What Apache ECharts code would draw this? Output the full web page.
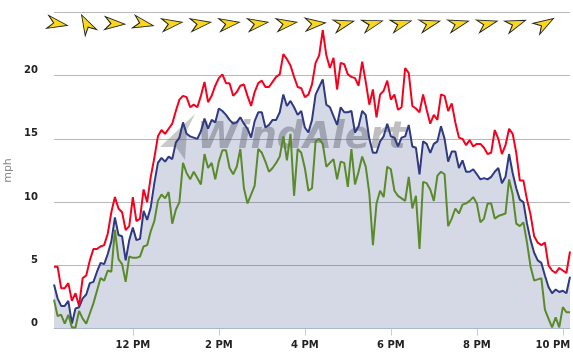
<!DOCTYPE html>
<html>
<head>
<meta charset="utf-8">
<title>Wind</title>
<script src="https://cdn.jsdelivr.net/npm/echarts@6/dist/echarts.min.js"></script>
<style>
html, body { margin: 0; padding: 0; background: #fff; }
#chart { width: 573px; height: 357px; }
</style>
</head>
<body>
<div id="chart"></div>
<script>
// wind speed in mph, one reading every 5 minutes from 10:10 AM
var gust = [
	4.9, 4.9, 3.2, 3.2, 3.6, 2.2, 2.8, 1.8, 4.0, 4.2,
	5.4, 6.3, 6.3, 6.5, 6.6, 7.5, 9.2, 10.4, 9.5, 9.2,
	7.8, 8.1, 10.4, 8.5, 8.7, 11.0, 10.0, 12.0, 13.5, 15.2,
	15.7, 15.4, 15.8, 16.2, 17.2, 18.1, 18.4, 18.3, 17.5, 17.7,
	17.5, 18.4, 19.5, 17.9, 18.4, 19.2, 19.8, 20.1, 19.4, 19.4,
	18.4, 18.7, 19.2, 19.3, 18.4, 17.6, 18.7, 19.4, 19.6, 19.1,
	19.1, 19.5, 19.9, 20.1, 21.7, 21.3, 20.8, 19.9, 19.1, 19.0,
	18.3, 18.5, 19.3, 21.0, 21.6, 23.6, 21.6, 20.6, 21.4, 18.9,
	21.0, 20.9, 20.1, 19.9, 19.8, 19.2, 21.1, 19.5, 17.7, 18.9,
	16.7, 18.5, 18.8, 19.6, 18.1, 18.5, 17.3, 17.5, 20.6, 20.2,
	17.6, 17.4, 17.1, 18.5, 17.3, 16.2, 16.9, 16.5, 18.5, 18.4,
	17.2, 17.8, 16.3, 15.1, 15.0, 14.5, 14.9, 14.4, 14.6, 14.6,
	14.3, 13.8, 13.9, 15.7, 15.0, 13.8, 14.5, 15.8, 15.4, 13.9,
	11.7, 11.7, 10.2, 9.0, 7.3, 6.8, 6.6, 6.8, 5.0, 4.6,
	4.4, 4.8, 4.6, 4.4, 6.1
];
var average = [
	3.5, 2.4, 1.8, 1.8, 2.2, 0.4, 1.6, 1.7, 2.4, 2.7,
	3.6, 3.7, 4.5, 5.2, 5.1, 5.9, 6.9, 8.8, 7.4, 7.3,
	5.4, 7.0, 8.0, 7.0, 7.1, 9.3, 8.6, 9.6, 11.5, 13.1,
	13.5, 13.2, 13.6, 13.4, 14.7, 15.1, 16.3, 15.4, 15.2, 15.1,
	15.0, 15.6, 16.6, 15.8, 16.5, 16.3, 17.4, 17.2, 16.9, 16.5,
	16.2, 16.3, 16.7, 16.2, 15.8, 15.1, 16.4, 17.1, 17.1, 15.9,
	16.1, 16.5, 16.5, 17.1, 18.5, 17.6, 18.0, 17.5, 16.9, 17.2,
	15.9, 15.5, 16.5, 18.5, 19.1, 19.7, 17.7, 17.5, 16.8, 16.1,
	17.5, 17.1, 17.1, 17.2, 15.5, 16.0, 17.2, 16.9, 15.0, 13.9,
	13.9, 14.8, 15.2, 16.2, 15.2, 15.1, 14.4, 15.1, 15.2, 16.1,
	14.4, 14.3, 12.2, 14.8, 14.6, 13.9, 14.6, 14.8, 16.0, 15.0,
	13.2, 14.0, 14.0, 12.7, 13.3, 12.4, 12.4, 12.6, 12.2, 11.8,
	11.9, 11.8, 12.0, 12.4, 12.7, 11.5, 12.0, 13.8, 12.3, 11.1,
	10.2, 10.0, 8.3, 7.0, 6.0, 5.4, 5.2, 4.2, 3.3, 2.8,
	3.1, 2.9, 3.0, 2.8, 4.1
];
var lull = [
	2.3, 1.0, 1.1, 0.4, 1.1, 0.1, 0.1, 1.4, 0.8, 0.4,
	1.2, 2.0, 3.0, 4.0, 3.8, 4.6, 4.5, 7.8, 5.5, 5.1,
	3.7, 5.7, 5.6, 5.6, 5.7, 6.5, 6.6, 7.7, 8.5, 10.1,
	10.6, 10.3, 10.8, 8.3, 9.4, 10.0, 13.1, 12.3, 11.8, 12.4,
	11.9, 11.4, 13.8, 12.7, 13.1, 11.8, 13.2, 14.1, 14.1, 12.7,
	12.2, 12.8, 14.2, 11.1, 9.9, 10.6, 11.3, 14.2, 13.9, 13.2,
	12.4, 12.7, 13.1, 13.6, 15.2, 13.3, 15.4, 10.5, 14.2, 13.9,
	12.7, 10.9, 11.1, 14.8, 15.0, 14.6, 12.8, 13.1, 13.4, 11.8,
	13.2, 13.1, 11.2, 14.2, 11.4, 12.4, 13.6, 12.8, 10.7, 6.6,
	9.9, 10.9, 10.4, 12.8, 12.6, 10.9, 10.5, 10.3, 10.1, 12.0,
	9.5, 10.5, 6.3, 11.6, 11.5, 11.0, 10.1, 12.1, 12.4, 12.2,
	8.1, 8.7, 9.5, 9.1, 9.8, 9.9, 10.1, 10.4, 9.9, 8.4,
	8.7, 9.9, 9.9, 8.7, 8.9, 9.0, 9.1, 11.8, 10.6, 8.3,
	8.1, 8.4, 6.8, 4.9, 3.8, 3.9, 4.0, 1.5, 0.8, 0.1,
	0.9, 0.1, 1.7, 1.3, 1.3
];
// direction arrows: which reading they sit on, and heading in degrees (counter clockwise from east)
var arrowIndex = [1, 9, 17, 25, 33, 41, 49, 57, 65, 73, 81, 89, 97, 105, 113, 121, 129, 137];
var arrowAngle = [-10, 118, -3, -12, 8, 8, 8, 8, 8, 5, 15, 16, 16, 15, 15, 15, 20, 31];
var tickLabels = {'12:00': '12 PM', '14:00': '2 PM', '16:00': '4 PM', '18:00': '6 PM', '20:00': '8 PM', '22:00': '10 PM'};

var categories = [];
for (var i = 0; i < gust.length; i++) {
	var m = 10 * 60 + 10 + i * 5;
	categories.push(Math.floor(m / 60) + ':' + ('0' + (m % 60)).slice(-2));
}

var arrowPoints = [];
for (var j = 0; j < arrowIndex.length; j++) {
	arrowPoints.push({value: [arrowIndex[j], 24.1], symbolRotate: arrowAngle[j]});
}

function isTick(index, value) {
	return tickLabels[value] !== undefined;
}

var myChart = echarts.init(document.getElementById('chart'));

var option = {
	animation: false,
	backgroundColor: '#fff',
	textStyle: {fontFamily: '"DejaVu Sans"'},
	grid: {left: 54, right: 3, top: 12.3, bottom: 28.3, outerBoundsMode: 'none'},
	graphic: [
		{
			type: 'polygon',
			z: 1,
			shape: {points: [[195, 114], [160, 147], [176, 147], [185, 160], [187, 130]]},
			style: {fill: 'rgba(120,120,120,0.4)'},
			silent: true
		},
		{
			type: 'text',
			z: 1,
			left: 197,
			top: 120,
			silent: true,
			style: {
				text: 'WindAlert',
				font: 'italic bold 37px "DejaVu Sans"',
				fill: 'rgba(110,110,115,0.45)'
			}
		}
	],
	xAxis: {
		type: 'category',
		boundaryGap: false,
		data: categories,
		axisLine: {lineStyle: {color: '#c0d0e0', width: 1}},
		axisTick: {interval: isTick, length: 7, lineStyle: {color: '#c0d0e0'}},
		splitLine: {show: false},
		axisLabel: {
			interval: isTick,
			margin: 12,
			fontSize: 10,
			fontWeight: 'bold',
			color: '#222',
			formatter: function (value) {
				if (value === '22:00') return '{last|' + tickLabels[value] + '}';
				return tickLabels[value] || '';
			},
			rich: {
				last: {fontSize: 10, fontWeight: 'bold', color: '#222', padding: [0, 20, 0, 0]}
			}
		}
	},
	yAxis: {
		type: 'value',
		min: 0,
		max: 25,
		interval: 5,
		name: 'mph',
		nameLocation: 'middle',
		nameRotate: 90,
		nameGap: 37,
		nameTextStyle: {color: '#888', fontSize: 11},
		axisLine: {show: false},
		axisTick: {show: false},
		splitLine: {lineStyle: {color: '#b8b8b8', width: 1}},
		axisLabel: {
			margin: 16,
			fontSize: 10,
			fontWeight: 'bold',
			color: '#222',
			verticalAlign: 'bottom',
			formatter: function (value) {
				return value === 25 ? '' : value;
			}
		}
	},
	series: [
		{
			name: 'Average',
			type: 'line',
			data: average,
			showSymbol: false,
			lineStyle: {color: '#2f3a80', width: 2},
			areaStyle: {color: '#2f3a7e', opacity: 0.2},
			z: 3
		},
		{
			name: 'Lull',
			type: 'line',
			data: lull,
			showSymbol: false,
			lineStyle: {color: '#5a8a2a', width: 2},
			z: 4
		},
		{
			name: 'Gust',
			type: 'line',
			data: gust,
			showSymbol: false,
			lineStyle: {color: '#f6001e', width: 2},
			z: 4
		},
		{
			name: 'Direction',
			type: 'scatter',
			data: arrowPoints,
			symbol: 'path://M0,0 L6,6.5 L0,13 L20,6.5 Z',
			symbolSize: [20, 13],
			itemStyle: {color: '#f9d71c', borderColor: '#222', borderWidth: 1, opacity: 1},
			z: 5
		}
	]
};

myChart.setOption(option);
</script>
</body>
</html>
